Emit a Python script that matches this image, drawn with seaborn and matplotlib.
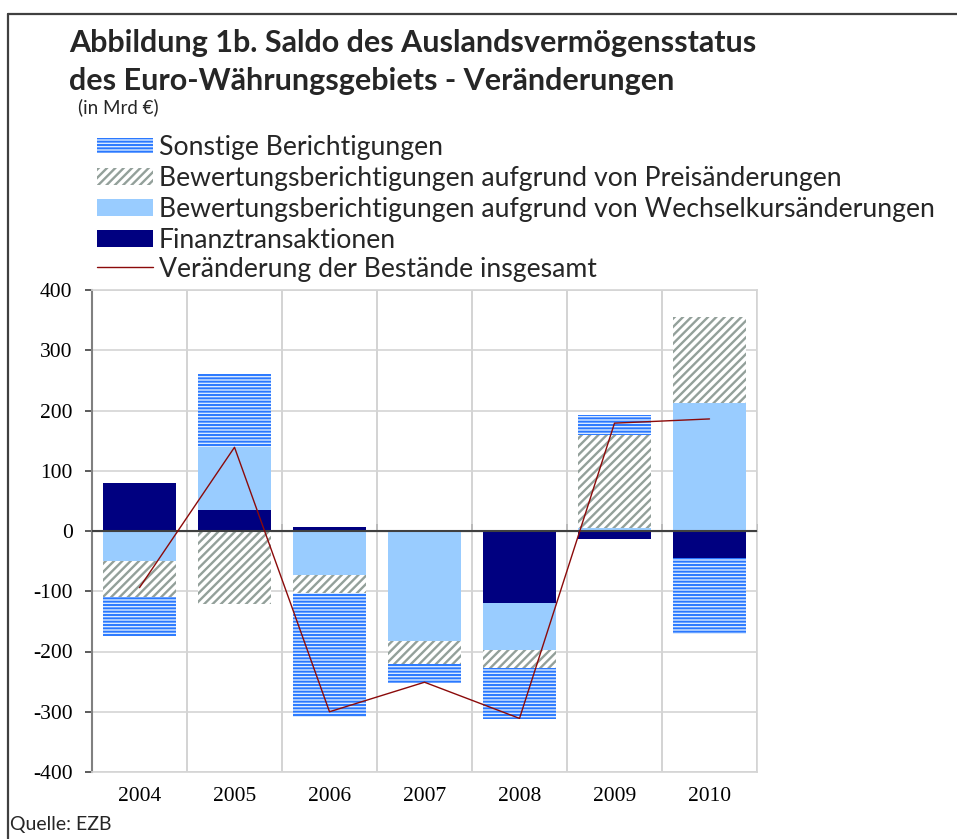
# Saldo des Auslandsvermoegensstatus - Veraenderungen (gestapelte Balken + Linie)

import numpy as np
import pandas as pd
import matplotlib
matplotlib.use("Agg")
import matplotlib.pyplot as plt
from matplotlib.patches import Rectangle
from matplotlib.lines import Line2D
import seaborn as sns

# ---------------------------
# 1. Daten (in Mrd EUR)
# ---------------------------
years = ["2004", "2005", "2006", "2007", "2008", "2009", "2010"]
finanz = [80, 35, 7, 0, -120, -14, -44]
wechsel = [-50, 105, -73, -183, -78, 5, 212]
preis = [-60, -121, -30, -37, -29, 154, 144]
sonstige = [-64, 120, -206, -32, -85, 34, -127]
gesamt = [-94, 139, -300, -251, -311, 179, 186]

labels = {
    "sonstige": "Sonstige Berichtigungen",
    "preis": "Bewertungsberichtigungen aufgrund von Preisänderungen",
    "wechsel": "Bewertungsberichtigungen aufgrund von Wechselkursänderungen",
    "finanz": "Finanztransaktionen",
    "gesamt": "Veränderung der Bestände insgesamt",
}

styles = {
    "finanz": dict(facecolor="#000080", edgecolor="#000080", hatch=None, hlw=1.4),
    "wechsel": dict(facecolor="#99ccff", edgecolor="#99ccff", hatch=None, hlw=1.4),
    "preis": dict(facecolor="#ffffff", edgecolor="#93a09a", hatch="////", hlw=1.7),
    "sonstige": dict(facecolor="#d9eaff", edgecolor="#2a78ff", hatch="-----", hlw=1.4),
}
line_color = "#8b0a0a"

# ---------------------------
# 2. Style
# ---------------------------
sns.set_style("white")
plt.rcParams["font.family"] = ["Lato", "DejaVu Sans"]

fig = plt.figure(figsize=(9.57, 8.39), dpi=100)
W, H = 957, 839

def fx(px):
    return px / W

def fy(py):
    return 1 - py / H

ax = fig.add_axes([fx(92), fy(772), fx(757) - fx(92), fy(290) - fy(772)])

# ---------------------------
# 3. Gestapelte Balken
# ---------------------------
x = np.arange(len(years))
stack = [("finanz", finanz), ("wechsel", wechsel), ("preis", preis), ("sonstige", sonstige)]
pos_bottom = np.zeros(len(years))
neg_bottom = np.zeros(len(years))
for key, vals in stack:
    v = np.array(vals, dtype=float)
    bottom = np.where(v >= 0, pos_bottom, neg_bottom)
    st = styles[key]
    with plt.rc_context({"hatch.linewidth": st["hlw"]}):
        ax.bar(x, v, bottom=bottom, width=0.76, facecolor=st["facecolor"],
               edgecolor=st["edgecolor"], hatch=st["hatch"], linewidth=0, zorder=3)
    pos_bottom += np.clip(v, 0, None)
    neg_bottom += np.clip(v, None, 0)

# Linie: Veraenderung insgesamt
df_line = pd.DataFrame({"x": x, "gesamt": gesamt})
sns.lineplot(data=df_line, x="x", y="gesamt", ax=ax, color=line_color,
             linewidth=1.0, zorder=5)

# ---------------------------
# 4. Achsen & Gitter
# ---------------------------
ax.set_xlim(-0.5, len(years) - 0.5)
ax.set_ylim(-400, 400)
ax.set_yticks(np.arange(-400, 401, 100))
ax.set_yticklabels([str(v) for v in np.arange(-400, 401, 100)])
ax.set_xticks(x)
ax.set_xticklabels(years)
ax.set_xticks(np.arange(-0.5, len(years), 1.0), minor=True)
ax.set_xlabel("")
ax.set_ylabel("")

ax.set_axisbelow(True)
ax.yaxis.grid(True, color="#d4d4d4", linewidth=1.2)
ax.xaxis.grid(True, which="minor", color="#cccccc", linewidth=1.2)
ax.xaxis.grid(False, which="major")

for side in ["top", "right", "bottom"]:
    ax.spines[side].set_color("#d4d4d4")
    ax.spines[side].set_linewidth(1.2)
ax.spines["left"].set_color("#808080")
ax.spines["left"].set_linewidth(1.5)

ax.tick_params(axis="y", which="major", left=True, length=5, width=1.2,
               color="#404040", direction="out", pad=9)
ax.tick_params(axis="x", which="both", length=0, pad=11)
for lab in ax.get_xticklabels() + ax.get_yticklabels():
    lab.set_fontfamily("Liberation Serif")
    lab.set_fontsize(15.5)
    lab.set_color("#000000")

# Nulllinie mit Teilstrichen an den Kategoriegrenzen
ax.axhline(0, color="#404040", linewidth=1.5, zorder=4)
sec = ax.secondary_xaxis(0.5)
sec.set_xticks(np.arange(-0.5, len(years), 1.0))
sec.set_xticklabels([])
sec.spines["bottom"].set_visible(False)
sec.tick_params(axis="x", length=5, width=1.2, color="#404040", direction="out")

# ---------------------------
# 5. Titel, Legende, Rahmen
# ---------------------------
fig.text(fx(69), fy(52), "Abbildung 1b. Saldo des Auslandsvermögensstatus",
         fontsize=22, fontweight="bold", va="baseline", ha="left")
fig.text(fx(69), fy(90), "des Euro-Währungsgebiets - Veränderungen",
         fontsize=22, fontweight="bold", va="baseline", ha="left")
fig.text(fx(78), fy(107), "(in Mrd €)", fontsize=13.5, va="center", ha="left")

legend_rows = ["sonstige", "preis", "wechsel", "finanz", "gesamt"]
row_y = [145, 176, 207, 238, 267]
for key, yc in zip(legend_rows, row_y):
    if key == "gesamt":
        fig.add_artist(Line2D([fx(97), fx(153)], [fy(yc), fy(yc)],
                              color=line_color, linewidth=1.0))
    else:
        st = styles[key]
        hh = 15 if key == "sonstige" else 17
        with plt.rc_context({"hatch.linewidth": st["hlw"]}):
            fig.patches.append(Rectangle((fx(97), fy(yc + hh / 2)), fx(153) - fx(97), hh / H,
                                         facecolor=st["facecolor"], edgecolor=st["edgecolor"],
                                         hatch=st["hatch"], linewidth=0,
                                         transform=fig.transFigure, figure=fig))
    fig.text(fx(159), fy(yc + 10), labels[key], fontsize=19.2, va="baseline", ha="left")

fig.text(fx(10), fy(830), "Quelle: EZB", fontsize=14, va="baseline", ha="left")

# Rahmen oben und links
fig.add_artist(Line2D([fx(8), 1.0], [fy(14), fy(14)], color="#404040", linewidth=1.6))
fig.add_artist(Line2D([fx(8), fx(8)], [fy(14), 0.0], color="#404040", linewidth=1.6))

plt.savefig("out.png", dpi=100)
print("saved out.png")
